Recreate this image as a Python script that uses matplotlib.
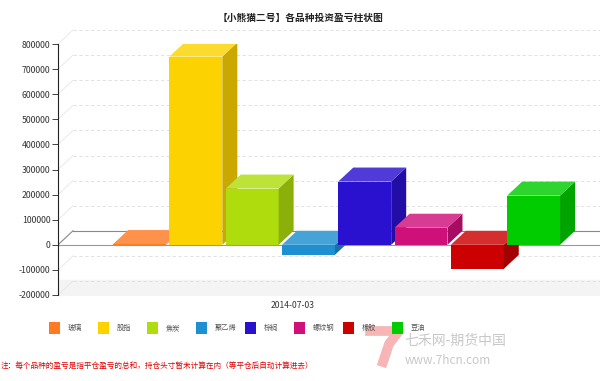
import numpy as np
import matplotlib
matplotlib.use('Agg')
import matplotlib.pyplot as plt
from matplotlib.patches import Polygon, Rectangle
from matplotlib.lines import Line2D

plt.rcParams['font.family'] = ['Noto Sans CJK SC', 'DejaVu Sans']

# data
categories = ['玻璃', '股指', '焦炭', '聚乙烯', '棕榈', '螺纹钢', '橡胶', '豆油']
values = [3000, 750000, 224000, -40000, 252000, 68000, -96000, 196000]
colors = ['#FF7A22', '#FCD200', '#AEDC0C', '#1E8FD0', '#2A10CF', '#D0107A', '#CC0000', '#00CC00']
yticks = [-200000, -100000, 0, 100000, 200000, 300000, 400000, 500000, 600000, 700000, 800000]
date_label = '2014-07-03'
title = '【小熊猫二号】各品种投资盈亏柱状图'
note = '注：每个品种的盈亏是指平仓盈亏的总和，持仓头寸暂未计算在内（等平仓后自动计算进去）'


def shade(c, f):
    r, g, b = matplotlib.colors.to_rgb(c)
    if f < 1:
        return (r * f, g * f, b * f)
    f = f - 1
    return (r + (1 - r) * f, g + (1 - g) * f, b + (1 - b) * f)


W, H = 600, 381
fig = plt.figure(figsize=(6, 3.81), dpi=100)

# faint site logo "7" behind the legend
fig.add_artist(Line2D([370 / W, 399 / W, 389 / W, 383 / W],
                      [1 - 331 / H, 1 - 331 / H, 1 - 344 / H, 1 - 362 / H],
                      transform=fig.transFigure, color='#f7b5b5', lw=7, solid_joinstyle='round', zorder=0))

ax = fig.add_axes([58 / W, 1 - 295 / H, 542 / W, 251 / H])
ax.patch.set_alpha(0)
xmin, xmax = -1.45, 8.18
ymin, ymax = -200000, 800000
ax.set_xlim(xmin, xmax)
ax.set_ylim(ymin, ymax)

# depth offset of the 3d look, in data units
px_x = (xmax - xmin) / 542.0
px_y = (ymax - ymin) / 251.0
dx, dy = 15 * px_x, 14 * px_y
bw = 0.94

# back wall grid
for t in yticks:
    if t == 0:
        continue
    ax.plot([xmin + dx, xmax], [t + dy, t + dy], color='#dddddd', lw=0.6, ls=(0, (4, 3)), zorder=1, clip_on=False)
    ax.plot([xmin, xmin + dx], [t, t + dy], color='#e6e6e6', lw=0.6, zorder=1, clip_on=False)
ax.fill_between([xmin, xmax], ymin, ymin + 60000, color='#f4f4f4', zorder=0)
ax.plot([xmin + dx, xmax], [dy, dy], color='#888888', lw=0.8, zorder=1)
ax.plot([xmin, xmin + dx], [0, dy], color='#888888', lw=0.8, zorder=1)
ax.plot([xmin, xmax], [0, 0], color='#999999', lw=0.8, zorder=1)

x = np.arange(len(values))
z = 3
for xi, v, c in zip(x, values, colors):
    lo, hi = min(0, v), max(0, v)
    l, r = xi - bw / 2, xi + bw / 2
    ax.bar(xi, v, bw, color=c, zorder=z, linewidth=0)
    side = Polygon([(r, lo), (r + dx, lo + dy), (r + dx, hi + dy), (r, hi)],
                   closed=True, facecolor=shade(c, 0.8), edgecolor='none', zorder=z)
    top = Polygon([(l, hi), (l + dx, hi + dy), (r + dx, hi + dy), (r, hi)],
                  closed=True, facecolor=shade(c, 1.18), edgecolor='none', zorder=z)
    ax.add_patch(side)
    ax.add_patch(top)
    z += 1

for s in ['top', 'right', 'bottom']:
    ax.spines[s].set_visible(False)
ax.spines['left'].set_color('#222222')
ax.spines['left'].set_linewidth(0.8)
ax.set_xticks([])
ax.set_yticks(yticks)
ax.set_yticklabels([str(t) for t in yticks], fontsize=6.3, color='#333333')
ax.tick_params(axis='y', length=4, width=0.6, pad=1.5, color='#222222')

fig.text(300 / W, 1 - 18 / H, title, ha='center', va='center', fontsize=7, fontweight='bold', color='#222222')
fig.text(293 / W, 1 - 306 / H, date_label, ha='center', va='center', fontsize=6.2, color='#333333')

# legend
for i, (name, c) in enumerate(zip(categories, colors)):
    lx = 49 + i * 49.0
    fig.patches.append(Rectangle((lx / W, 1 - 334 / H), 11 / W, 12 / H, transform=fig.transFigure,
                                 facecolor=c, edgecolor='none'))
    fig.text((lx + 19) / W, 1 - 328 / H, name, ha='left', va='center', fontsize=5.2, color='#555555')

fig.text(1 / W, 1 - 367 / H, note, ha='left', va='center', fontsize=5.5, color='#E00000')

# site watermark
fig.text(404 / W, 1 - 341 / H, '七禾网-期货中国', ha='left', va='center', fontsize=10, color='#c8c8c8')
fig.text(405 / W, 1 - 361 / H, 'www.7hcn.com', ha='left', va='center', fontsize=8.5, color='#c8c8c8')

fig.savefig('out.png', dpi=100)
